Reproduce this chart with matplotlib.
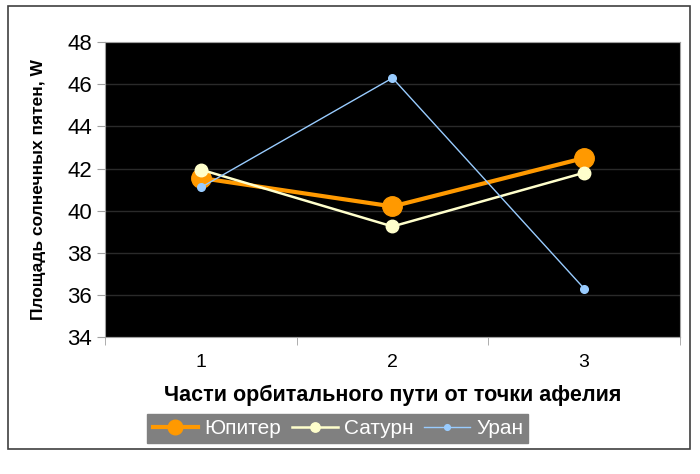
import matplotlib
matplotlib.use("Agg")
import matplotlib.pyplot as plt
from matplotlib.patches import Rectangle

# Данные графика
parts = [1, 2, 3]
jupiter = [41.55, 40.2, 42.5]
saturn = [41.95, 39.25, 41.8]
uranus = [41.1, 46.3, 36.3]

plt.rcParams['font.family'] = ['Liberation Sans', 'DejaVu Sans']

fig = plt.figure(figsize=(7.0, 4.74), dpi=100)
ax = fig.add_axes([0.15, 0.289, 0.8214, 0.622])
ax.set_facecolor('black')

# Рамка вокруг всей диаграммы
fig.patches.append(Rectangle((8 / 700, 1 - 449 / 474), 682 / 700, 443 / 474,
                             transform=fig.transFigure, fill=False,
                             edgecolor='#404040', linewidth=1.2))

ax.plot(parts, jupiter, color='#ff9900', linewidth=3, marker='o',
        markersize=14, label='Юпитер', zorder=3)
ax.plot(parts, saturn, color='#ffffcc', linewidth=1.8, marker='o',
        markersize=9, label='Сатурн', zorder=4)
ax.plot(parts, uranus, color='#99ccff', linewidth=1, marker='o',
        markersize=5.5, label='Уран', zorder=5)

ax.set_xlim(0.5, 3.5)
ax.set_ylim(34, 48)
ax.set_yticks(range(34, 49, 2))
ax.set_xticks(parts)
ax.set_xticks([0.5, 1.5, 2.5, 3.5], minor=True)
ax.tick_params(axis='x', which='major', length=0, labelsize=14, pad=12)
ax.tick_params(axis='x', which='minor', length=6, color='#a0a0a0')
ax.tick_params(axis='y', length=6, color='#a0a0a0', labelsize=16)
ax.grid(axis='y', color='#2a2a2a', linewidth=1)
ax.set_axisbelow(True)
for s in ax.spines.values():
    s.set_color('#a0a0a0')

ax.set_xlabel('Части орбитального пути от точки афелия',
              fontsize=15.5, fontweight='bold', labelpad=10)
ax.set_ylabel('Площадь солнечных пятен, W', fontsize=12.5,
              fontweight='bold', labelpad=15)

leg = ax.legend(loc='upper center', bbox_to_anchor=(0.405, -0.26), ncol=3,
                frameon=True, fancybox=False, fontsize=15, markerscale=0.75,
                handlelength=2.2, handletextpad=0.3, columnspacing=0.5,
                borderpad=0.25, borderaxespad=0)
leg.get_frame().set_facecolor('#808080')
leg.get_frame().set_edgecolor('#808080')
leg.get_frame().set_alpha(1)
for t in leg.get_texts():
    t.set_color('white')

fig.savefig('out.png', dpi=100)
